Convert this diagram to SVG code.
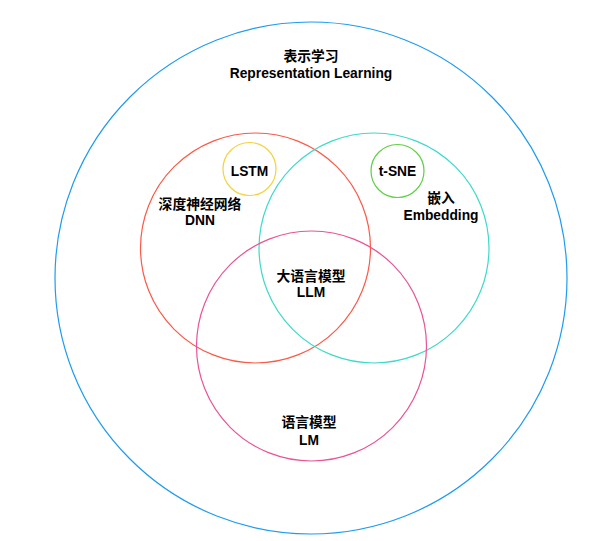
<svg xmlns="http://www.w3.org/2000/svg" width="603" height="541" viewBox="0 0 603 541">
<style>
.c{fill:none;stroke-width:1.2}
text{font-family:"Liberation Sans","Noto Sans CJK SC",sans-serif;font-weight:bold;font-size:13.8px;fill:#000;text-anchor:middle}
</style>
<rect width="603" height="541" fill="#fff"/>
<g id="representation-learning">
<circle class="c" cx="311" cy="278" r="256" stroke="#1e9bf0"/>
<text x="311" y="61">表示学习</text>
<text x="311" y="78">Representation Learning</text>
</g>
<g id="dnn">
<circle class="c" cx="255.5" cy="248" r="115" stroke="#fa5a48"/>
<text x="200" y="209">深度神经网络</text>
<text x="200" y="225">DNN</text>
</g>
<g id="embedding">
<circle class="c" cx="374" cy="248" r="115" stroke="#3ddac8"/>
<text x="441" y="203">嵌入</text>
<text x="441" y="220">Embedding</text>
</g>
<g id="lm">
<circle class="c" cx="311.5" cy="346" r="115" stroke="#e95497"/>
<text x="309" y="427">语言模型</text>
<text x="309" y="445">LM</text>
</g>
<g id="llm">
<text x="311" y="281">大语言模型</text>
<text x="311" y="297">LLM</text>
</g>
<g id="lstm">
<circle class="c" cx="249.5" cy="169" r="26.5" stroke="#f4d33c"/>
<text x="249.5" y="175.5">LSTM</text>
</g>
<g id="tsne">
<circle class="c" cx="397.5" cy="171" r="26.5" stroke="#5fcf44"/>
<text x="397.5" y="176">t-SNE</text>
</g>
<g id="connectors"/>
</svg>
